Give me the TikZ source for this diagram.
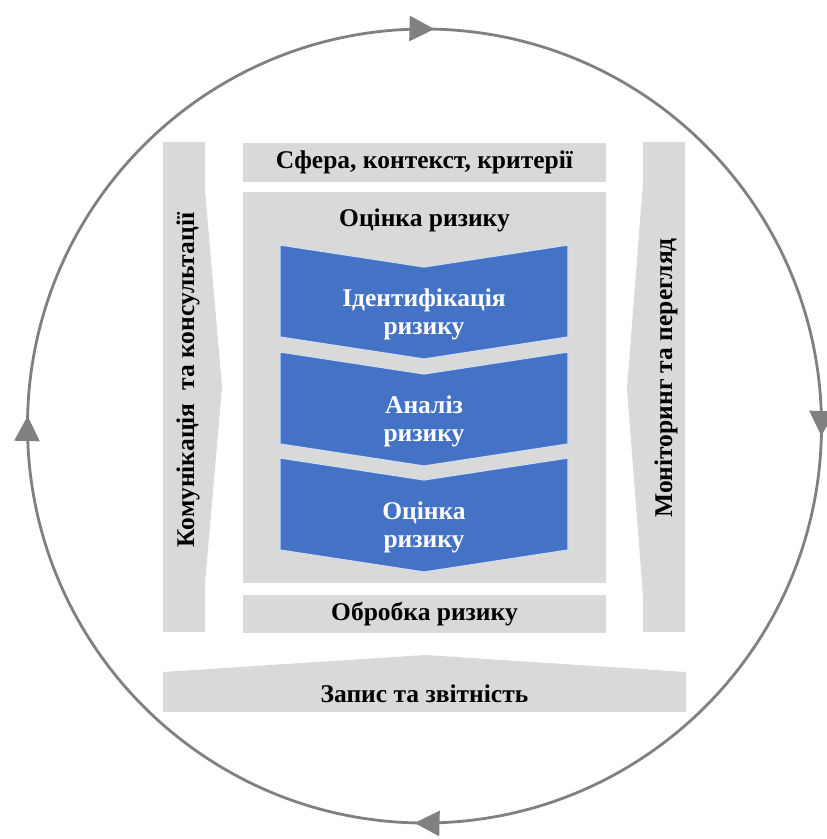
\documentclass[tikz,border=0pt]{standalone}
\usepackage{fontspec}
\setmainfont{Liberation Serif}
\usetikzlibrary{decorations.markings,arrows.meta}

\definecolor{panelgray}{HTML}{D9D9D9}
\definecolor{stepblue}{HTML}{4472C4}
\definecolor{ringgray}{HTML}{808080}

\begin{document}
\begin{tikzpicture}[x=1pt,y=1pt,
  panel/.style={fill=panelgray, draw=none},
  boxlabel/.style={font=\bfseries\fontsize{25.5}{28}\selectfont, text=black, align=center, inner sep=0pt},
  steplabel/.style={font=\bfseries\fontsize{25.5}{28}\selectfont, text=white, align=center, inner sep=0pt},
  chevronshape/.style={fill=stepblue, draw=white!75!stepblue, line width=1.2pt, line join=miter},
  ringline/.style={draw=ringgray, line width=2.8pt, postaction=decorate,
    decoration={markings,
      mark=at position 0.004 with {\arrow[ringgray]{Triangle[length=25pt,width=25pt]}},
      mark=at position 0.254 with {\arrow[ringgray]{Triangle[length=25pt,width=25pt]}},
      mark=at position 0.504 with {\arrow[ringgray]{Triangle[length=25pt,width=25pt]}},
      mark=at position 0.754 with {\arrow[ringgray]{Triangle[length=25pt,width=25pt]}}}}
]
\useasboundingbox (0,0) rectangle (827,839);
\fill[white] (0,0) rectangle (827,839);

% outer cycle, clockwise from the top
\coordinate (hub) at (424.5,413);
\draw[ringline] (hub) ++(0,397) arc[start angle=90, end angle=-270, radius=397pt];

% left column: communication and consultation
\fill[panelgray] (163,697) -- (205,697) -- (205,649) -- (222,452) -- (205,255) -- (205,207) -- (163,207) -- cycle;
\node[boxlabel, rotate=90] (comm) at (188,459) {Комунікація\ \ та консультації};

% right column: monitoring and review
\fill[panelgray] (643,697) -- (685,697) -- (685,207) -- (643,207) -- (643,243) -- (627,450) -- (643,657) -- cycle;
\node[boxlabel, rotate=90] (monitor) at (666,461) {Моніторинг та перегляд};

% central boxes
\node[panel, minimum width=363pt, minimum height=39pt, inner sep=0pt] (scope) at (424.5,676.5) {};
\node[boxlabel] (scopetext) at (scope.center) {Сфера, контекст, критерії};

\node[panel, minimum width=363pt, minimum height=391pt, inner sep=0pt] (assess) at (424.5,451.5) {};
\node[boxlabel] (assesstext) at (424.5,619) {Оцінка ризику};

\node[panel, minimum width=363pt, minimum height=38pt, inner sep=0pt] (treat) at (424.5,225) {};
\node[boxlabel] (treattext) at (treat.center) {Обробка ризику};

% three assessment steps as chevrons
\foreach \top/\name/\txt in {594/ident/{Ідентифікація\\ризику}, 487/analysis/{Аналіз\\ризику}, 381/evaluation/{Оцінка\\ризику}}{
  \draw[chevronshape] (280,\top) -- (424,\top-22) -- (568,\top) -- (568,\top-92) -- (424,\top-114) -- (280,\top-92) -- cycle;
  \node[steplabel] (\name) at (424,\top-69) {\txt};
}

% recording and reporting banner
\fill[panelgray] (163,127) -- (163,167) -- (425,184) -- (686,167) -- (686,127) -- cycle;
\node[boxlabel] (record) at (424.5,145) {Запис та звітність};
\end{tikzpicture}
\end{document}
